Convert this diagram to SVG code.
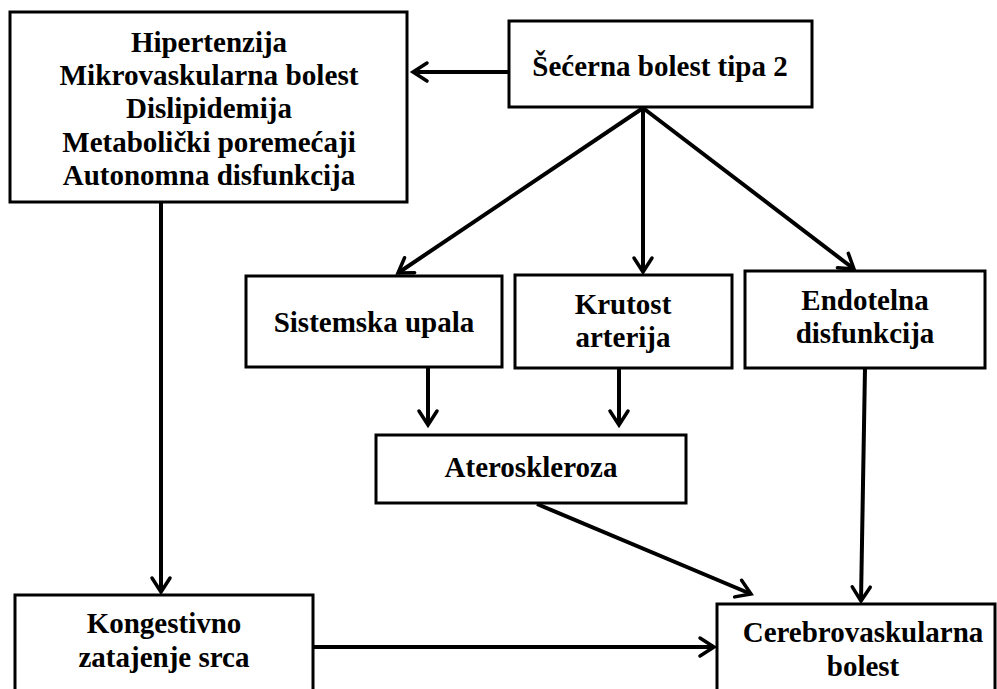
<svg xmlns="http://www.w3.org/2000/svg" width="997" height="689" viewBox="0 0 997 689">
<style>
.box{fill:#fff;stroke:#000;stroke-width:3}
.lbl{font-family:'Liberation Serif','Times New Roman','DejaVu Serif',serif;font-weight:700;font-size:29px;fill:#000;text-anchor:middle}
.con{stroke:#000;stroke-width:4;fill:none;marker-end:url(#ah)}
</style>
<defs>
<marker id="ah" markerUnits="userSpaceOnUse" markerWidth="30" markerHeight="30" viewBox="-20 -15 25 30" refX="0" refY="0" orient="auto">
<path d="M-14,-9 L0,0 L-14,9" fill="none" stroke="#000" stroke-width="3.5" stroke-linecap="round" stroke-linejoin="miter"/>
</marker>
</defs>
<rect width="997" height="689" fill="#fff"/>
<g id="connectors">
<line class="con" x1="509" y1="72" x2="413" y2="72"/>
<line class="con" x1="643" y1="108" x2="398" y2="273"/>
<line class="con" x1="643" y1="108" x2="643" y2="272"/>
<line class="con" x1="643" y1="108" x2="854" y2="269"/>
<line class="con" x1="428" y1="368" x2="428" y2="425"/>
<line class="con" x1="619" y1="368" x2="619" y2="425"/>
<line class="con" x1="537" y1="504" x2="751" y2="594"/>
<line class="con" x1="865" y1="368" x2="861" y2="601"/>
<line class="con" x1="161" y1="202" x2="161" y2="592"/>
<line class="con" x1="313" y1="647" x2="714" y2="647"/>
</g>
<g id="n-risk">
<rect class="box" x="10" y="12" width="397" height="190"/>
<text class="lbl" font-family="Liberation Serif" x="209" y="52">Hipertenzija</text>
<text class="lbl" x="209" y="85" textLength="299" lengthAdjust="spacingAndGlyphs">Mikrovaskularna bolest</text>
<text class="lbl" x="209" y="118">Dislipidemija</text>
<text class="lbl" x="209" y="152">Metabolički poremećaji</text>
<text class="lbl" x="209" y="185">Autonomna disfunkcija</text>
</g>
<g id="n-diabetes">
<rect class="box" x="509" y="21" width="303" height="86"/>
<text class="lbl" x="660" y="76">Šećerna bolest tipa 2</text>
</g>
<g id="n-inflammation">
<rect class="box" x="246" y="276" width="256" height="91"/>
<text class="lbl" x="374" y="332">Sistemska upala</text>
</g>
<g id="n-stiffness">
<rect class="box" x="515" y="275" width="217" height="93"/>
<text class="lbl" x="623" y="314">Krutost</text>
<text class="lbl" x="623" y="347">arterija</text>
</g>
<g id="n-endothelial">
<rect class="box" x="745" y="271" width="240" height="97"/>
<text class="lbl" x="865" y="310">Endotelna</text>
<text class="lbl" x="865" y="343">disfunkcija</text>
</g>
<g id="n-atherosclerosis">
<rect class="box" x="376" y="435" width="310" height="68"/>
<text class="lbl" x="531" y="477">Ateroskleroza</text>
</g>
<g id="n-chf">
<rect class="box" x="15" y="595" width="298" height="110"/>
<text class="lbl" x="164" y="633">Kongestivno</text>
<text class="lbl" x="164" y="667">zatajenje srca</text>
</g>
<g id="n-cerebro">
<rect class="box" x="717" y="604" width="278" height="100"/>
<text class="lbl" x="863" y="642">Cerebrovaskularna</text>
<text class="lbl" x="863" y="676">bolest</text>
</g>
</svg>
